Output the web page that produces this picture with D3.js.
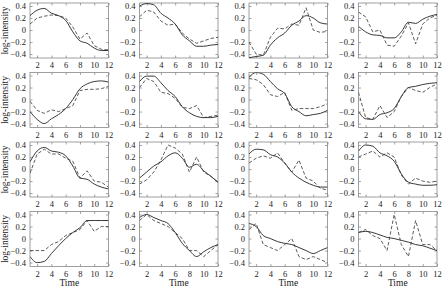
<!DOCTYPE html>
<html><head><meta charset="utf-8">
<script src="https://cdn.jsdelivr.net/npm/d3@7"></script>
<style>body{margin:0;background:#fff}svg{display:block}svg text{font-family:"Liberation Serif","Times New Roman","DejaVu Serif",serif !important;fill:#222}</style>
</head><body><svg id="c" width="442" height="289"></svg>
<script>
const times = [1,2,3,4,5,6,7,8,9,10,11,12];
const xTicks = [2,4,6,8,10,12];
const yTicks = [-0.4,-0.2,0,0.2,0.4];
const yLabel = "log-intensity";
const xLabel = "Time";
// solid series per panel (row-major)
const solid = [
 [0.24,0.33,0.36,0.28,0.24,0.16,-0.03,-0.18,-0.22,-0.30,-0.34,-0.34],
 [0.40,0.44,0.42,0.28,0.20,0.10,-0.08,-0.18,-0.27,-0.27,-0.25,-0.24],
 [-0.46,-0.44,-0.42,-0.25,-0.13,-0.05,0.08,0.15,0.24,0.20,0.12,0.10],
 [0.06,-0.03,-0.08,-0.09,-0.13,-0.13,-0.03,0.13,0.11,0.18,0.23,0.26],
 [-0.20,-0.33,-0.40,-0.32,-0.25,-0.15,0.00,0.18,0.26,0.30,0.31,0.29],
 [0.30,0.39,0.39,0.28,0.15,0.05,-0.12,-0.22,-0.28,-0.30,-0.30,-0.28],
 [0.37,0.45,0.42,0.30,0.18,0.10,-0.12,-0.20,-0.27,-0.25,-0.23,-0.18],
 [-0.20,-0.32,-0.33,-0.25,-0.22,-0.15,0.05,0.20,0.22,0.25,0.27,0.28],
 [0.12,0.30,0.36,0.30,0.28,0.22,0.05,-0.15,-0.17,-0.25,-0.30,-0.33],
 [-0.15,-0.05,0.05,0.12,0.22,0.27,0.18,0.03,0.08,-0.03,-0.12,-0.22],
 [0.25,0.33,0.32,0.24,0.20,0.10,-0.05,-0.15,-0.22,-0.27,-0.30,-0.30],
 [0.30,0.40,0.38,0.27,0.22,0.13,-0.08,-0.22,-0.25,-0.27,-0.27,-0.26],
 [-0.30,-0.40,-0.38,-0.25,-0.12,0.00,0.10,0.18,0.30,0.30,0.30,0.30],
 [0.35,0.40,0.35,0.30,0.25,0.10,-0.08,-0.20,-0.30,-0.22,-0.15,-0.10],
 [0.25,0.20,0.05,0.00,-0.05,-0.08,-0.10,-0.15,-0.20,-0.25,-0.20,-0.15],
 [0.10,0.12,0.10,0.06,0.02,0.00,-0.03,-0.06,-0.10,-0.12,-0.16,-0.20]
];
const dashed = [
 [0.10,0.20,0.23,0.25,0.24,0.20,0.05,-0.15,-0.05,-0.26,-0.32,-0.33],
 [0.22,0.33,0.30,0.15,0.08,0.10,-0.05,-0.15,-0.22,-0.18,-0.14,-0.12],
 [-0.20,-0.40,-0.42,-0.12,0.03,0.02,0.10,0.08,0.37,0.00,-0.04,-0.02],
 [0.30,0.22,-0.03,0.00,-0.25,-0.27,-0.10,0.12,-0.23,0.10,0.20,0.25],
 [-0.03,-0.18,-0.23,-0.17,-0.20,-0.15,-0.10,0.15,0.17,0.17,0.18,0.22],
 [0.20,0.35,0.30,0.12,0.10,0.02,-0.13,-0.15,-0.10,-0.30,-0.28,-0.26],
 [0.35,0.33,0.25,0.08,0.05,0.12,-0.18,-0.15,-0.15,-0.15,-0.12,-0.07],
 [0.12,-0.30,-0.33,-0.10,-0.30,-0.20,0.05,0.20,0.15,0.12,0.20,0.26],
 [-0.07,0.25,0.33,0.25,0.25,0.18,0.13,-0.15,-0.03,-0.20,-0.22,-0.30],
 [-0.25,-0.18,-0.05,0.15,0.40,0.35,0.25,-0.05,0.20,-0.05,-0.12,-0.22],
 [0.10,0.18,0.22,0.18,0.27,0.10,-0.05,0.15,-0.15,-0.20,-0.32,-0.35],
 [0.20,0.25,0.30,0.20,0.27,0.20,-0.10,-0.25,-0.15,-0.20,-0.22,-0.20],
 [-0.20,-0.20,-0.20,-0.10,-0.05,0.05,0.10,0.15,0.30,0.12,0.20,0.20],
 [0.30,0.40,0.30,0.25,0.20,0.10,0.00,-0.20,-0.20,-0.30,-0.20,-0.10],
 [0.15,0.25,-0.10,-0.15,-0.20,-0.10,0.00,-0.30,-0.35,-0.30,-0.35,-0.40],
 [0.10,0.15,0.05,0.00,-0.20,0.40,-0.10,-0.30,0.30,-0.10,-0.10,-0.20]
];

const svg = d3.select("#c");
const colLeft = [30,139.5,249,358.5], rowTop = [3,72.5,142,211.5];
const W = 78.5, H = 55;
const x = d3.scaleLinear().domain([1,12]).range([0,W]);
const y = d3.scaleLinear().domain([-0.465,0.45]).range([H,0]);
const fmt = d => d===0 ? "0" : d3.format(".1f")(d).replace("-","\u2212");
const FONT = "'Liberation Serif','Times New Roman','DejaVu Serif',serif";

solid.forEach((s,i)=>{
  const r = Math.floor(i/4), c = i%4;
  const g = svg.append("g").attr("transform",`translate(${colLeft[c]},${rowTop[r]})`);
  const cid = "clip"+i;
  g.append("clipPath").attr("id",cid).append("rect").attr("width",W).attr("height",H);
  const ax = (axis, tr) => g.append("g").attr("transform",tr).call(axis)
     .attr("font-family",FONT)
     .call(a=>{a.select(".domain").remove();a.selectAll("line").attr("stroke","#666").attr("stroke-width",0.6);
               a.selectAll("text").attr("font-family",FONT).style("font-size","8.5px").attr("fill","#222");});
  ax(d3.axisBottom(x).tickValues(xTicks).tickSize(-2.5).tickPadding(4).tickFormat(d3.format("d")), `translate(0,${H})`);
  ax(d3.axisTop(x).tickValues(xTicks).tickSize(-2.5).tickFormat(""), `translate(0,0)`);
  ax(d3.axisLeft(y).tickValues(yTicks).tickSize(-2.5).tickPadding(4).tickFormat(fmt), `translate(0,0)`);
  ax(d3.axisRight(y).tickValues(yTicks).tickSize(-2.5).tickFormat(""), `translate(${W},0)`);
  g.append("rect").attr("width",W).attr("height",H).attr("fill","none").attr("stroke","#777").attr("stroke-width",0.7);
  const lineS = d3.line().x((d,j)=>x(times[j])).y(d=>y(d)).curve(d3.curveMonotoneX);
  const lineD = d3.line().x((d,j)=>x(times[j])).y(d=>y(d));
  const lg = g.append("g").attr("clip-path",`url(#${cid})`);
  lg.append("path").attr("d",lineS(s)).attr("fill","none").attr("stroke","#222").attr("stroke-width",0.9);
  lg.append("path").attr("d",lineD(dashed[i])).attr("fill","none").attr("stroke","#333").attr("stroke-width",0.8).attr("stroke-dasharray","3.5,2");
  if (c===0) g.append("text").attr("transform",`translate(-22,${H/2}) rotate(-90)`).attr("text-anchor","middle")
     .attr("font-family",FONT).style("font-size","9.5px").text(yLabel);
  if (r===3) g.append("text").attr("x",W/2).attr("y",H+19).attr("text-anchor","middle")
     .attr("font-family",FONT).style("font-size","9.5px").text(xLabel);
});
</script></body></html>
